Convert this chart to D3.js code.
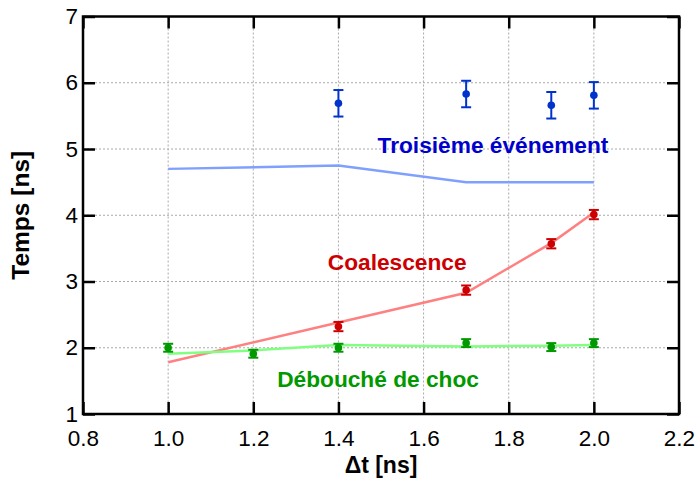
<!DOCTYPE html>
<html><head><meta charset="utf-8">
<script src="https://cdn.jsdelivr.net/npm/d3@7"></script>
<style>body{margin:0;background:#fff}svg{display:block}text{font-family:"Liberation Sans",Arial,sans-serif}</style>
</head><body><svg id="c" width="697" height="490"></svg>
<script>
const xTicks = [0.8,1.0,1.2,1.4,1.6,1.8,2.0,2.2];
const yTicks = [1,2,3,4,5,6,7];
// Troisième événement
const blueX = [1.4,1.7,1.9,2.0];
const blueY = [5.69,5.83,5.66,5.81];
const blueErr = [0.2,0.2,0.2,0.2];
const blueLineX = [1.0,1.4,1.7,1.9,2.0];
const blueLineY = [4.70,4.75,4.50,4.50,4.50];
// Coalescence
const redX = [1.4,1.7,1.9,2.0];
const redY = [2.32,2.87,3.57,4.01];
const redErr = [0.07,0.07,0.07,0.07];
const redLineX = [1.0,1.4,1.7,1.9,2.0];
const redLineY = [1.78,2.38,2.83,3.58,4.04];
// Débouché de choc
const greenX = [1.0,1.2,1.4,1.7,1.9,2.0];
const greenY = [2.00,1.91,2.00,2.07,2.01,2.07];
const greenErr = [0.06,0.06,0.06,0.06,0.06,0.06];
const greenLineX = [1.0,1.2,1.4,1.7,1.9,2.0];
const greenLineY = [1.91,1.96,2.04,2.02,2.03,2.04];
const labels = ["Troisième événement","Coalescence","Débouché de choc"];
const labelPos = [[1.763,4.94],[1.538,3.17],[1.493,1.41]];

const svg = d3.select("#c");
const L=83,R=679,T=16.5,B=414;
const x = d3.scaleLinear().domain([0.8,2.2]).range([L,R]);
const y = d3.scaleLinear().domain([1,7]).range([B,T]);

// grid
const g = svg.append("g");
g.selectAll("line.gx").data(xTicks.slice(1,-1)).join("line")
  .attr("x1",d=>x(d)).attr("x2",d=>x(d)).attr("y1",T).attr("y2",B)
  .attr("stroke","#aaa").attr("stroke-dasharray","2,2").attr("stroke-width",1);
g.selectAll("line.gy").data(yTicks.slice(1,-1)).join("line")
  .attr("y1",d=>y(d)).attr("y2",d=>y(d)).attr("x1",L).attr("x2",R)
  .attr("stroke","#aaa").attr("stroke-dasharray","2,2").attr("stroke-width",1);

// axes
const fmt = d3.format(".1f");
const ax = [
  [d3.axisBottom(x).tickValues(xTicks).tickFormat(fmt).tickSizeInner(-12).tickSizeOuter(0).tickPadding(16), `translate(0,${B})`],
  [d3.axisTop(x).tickValues(xTicks).tickFormat("").tickSizeInner(-12).tickSizeOuter(0), `translate(0,${T})`],
  [d3.axisLeft(y).tickValues(yTicks).tickFormat(d3.format("d")).tickSizeInner(-12).tickSizeOuter(0).tickPadding(5), `translate(${L},0)`],
  [d3.axisRight(y).tickValues(yTicks).tickFormat("").tickSizeInner(-12).tickSizeOuter(0), `translate(${R},0)`]
];
ax.forEach(([a,t])=>{
  const s = svg.append("g").attr("transform",t).call(a);
  s.select(".domain").remove();
  s.selectAll(".tick line").attr("stroke","#000").attr("stroke-width",2.5);
  s.selectAll(".tick text").attr("font-size",22.5).attr("fill","#000").style("font-family","Liberation Sans, Arial");
});
svg.append("rect").attr("x",L).attr("y",T).attr("width",R-L).attr("height",B-T)
  .attr("fill","none").attr("stroke","#000").attr("stroke-width",2.5);

// lines
const line = d3.line().x(d=>x(d[0])).y(d=>y(d[1]));
const series = [
  {lx:blueLineX,ly:blueLineY,px:blueX,py:blueY,pe:blueErr,lc:"#80a0ff",pc:"#0033cc",tc:"#0000cc"},
  {lx:redLineX,ly:redLineY,px:redX,py:redY,pe:redErr,lc:"#ff8080",pc:"#cc0000",tc:"#cc0000"},
  {lx:greenLineX,ly:greenLineY,px:greenX,py:greenY,pe:greenErr,lc:"#80ff80",pc:"#009900",tc:"#009900"}
];
series.forEach((s,i)=>{
  svg.append("path").datum(s.lx.map((v,j)=>[v,s.ly[j]])).attr("d",line)
    .attr("fill","none").attr("stroke",s.lc).attr("stroke-width",2.5);
});
series.forEach((s,i)=>{
  const pts = s.px.map((v,j)=>({x:v,y:s.py[j],e:s.pe[j]}));
  const gg = svg.append("g").attr("stroke",s.pc).attr("fill",s.pc);
  gg.selectAll("line.v").data(pts).join("line")
    .attr("x1",d=>x(d.x)).attr("x2",d=>x(d.x)).attr("y1",d=>y(d.y-d.e)).attr("y2",d=>y(d.y+d.e)).attr("stroke-width",2);
  gg.selectAll("line.t").data(pts).join("line")
    .attr("x1",d=>x(d.x)-5).attr("x2",d=>x(d.x)+5).attr("y1",d=>y(d.y+d.e)).attr("y2",d=>y(d.y+d.e)).attr("stroke-width",2);
  gg.selectAll("line.b").data(pts).join("line")
    .attr("x1",d=>x(d.x)-5).attr("x2",d=>x(d.x)+5).attr("y1",d=>y(d.y-d.e)).attr("y2",d=>y(d.y-d.e)).attr("stroke-width",2);
  gg.selectAll("circle").data(pts).join("circle")
    .attr("cx",d=>x(d.x)).attr("cy",d=>y(d.y)).attr("r",3.8).attr("stroke","none");
  svg.append("text").attr("x",x(labelPos[i][0])).attr("y",y(labelPos[i][1]))
    .attr("text-anchor","middle").attr("font-size",22.7).attr("font-weight","bold")
    .attr("fill",s.tc).text(labels[i]);
});

// axis titles
svg.append("text").attr("x",(L+R)/2).attr("y",473).attr("text-anchor","middle")
  .attr("font-size",23).attr("font-weight","bold").text("Δt [ns]");
svg.append("text").attr("transform",`translate(29,${(T+B)/2}) rotate(-90)`).attr("text-anchor","middle")
  .attr("font-size",24.5).attr("font-weight","bold").text("Temps [ns]");
</script></body></html>
